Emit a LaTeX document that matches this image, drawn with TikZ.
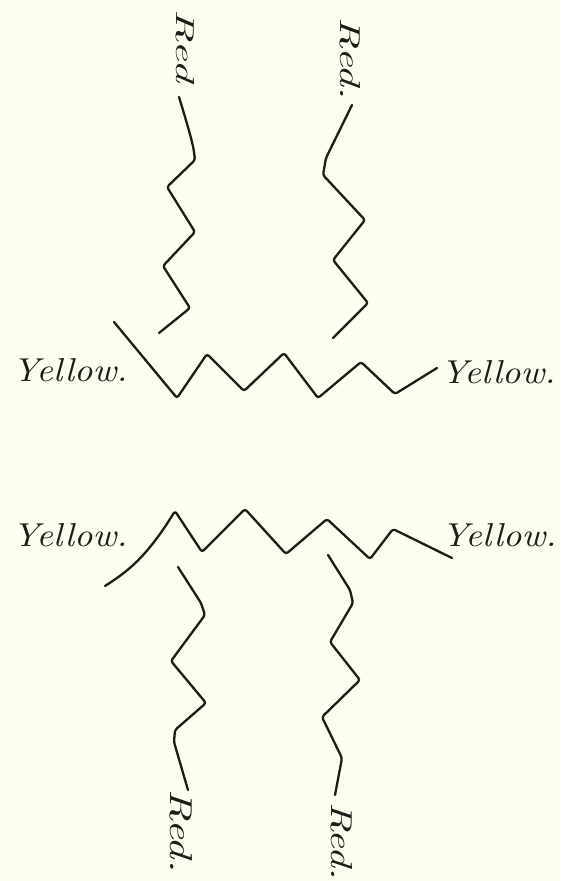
\documentclass[tikz,border=0pt]{standalone}
\usepackage{graphicx}
\definecolor{paper}{RGB}{253,253,240}
\definecolor{ink}{RGB}{28,28,24}
\tikzset{
  wire/.style={draw=ink, line width=2.3pt, rounded corners=2.5pt, line cap=round, line join=round},
  lbl/.style={inner sep=0pt, text=ink, font=\itshape},
}
\newcommand{\ylab}{\resizebox{115pt}{23pt}{\itshape Yellow.}}
\begin{document}
\begin{tikzpicture}[x=1pt,y=-1pt]
\fill[paper] (0,0) rectangle (560,881);
\useasboundingbox (0,0) rectangle (560,881);

% labels
\node[lbl, rotate=-90] (rTL) at (185,46) {\resizebox{72pt}{18pt}{\itshape Red}};
\node[lbl, rotate=-90] (rTR) at (350,59) {\resizebox{82pt}{20pt}{\itshape Red.}};
\node[lbl] (yTL) at (70,370) {\ylab};
\node[lbl] (yTR) at (498,372) {\ylab};
\node[lbl] (yBL) at (70,535) {\ylab};
\node[lbl] (yBR) at (499,535) {\ylab};
\node[lbl, rotate=-90] (rBL) at (181,831) {\resizebox{83pt}{22pt}{\itshape Red.}};
\node[lbl, rotate=-90] (rBR) at (342,841) {\resizebox{78pt}{21pt}{\itshape Red.}};

% top red wires
\draw[wire] (179,97) .. controls (186,120) and (192,140) .. (194,152) -- (195,160) -- (167,187) -- (195,232) -- (163,266) -- (190,308) -- (159,333);
\draw[wire] (352,105) -- (326,158) -- (323,175) -- (365,220) -- (333,260) -- (368,303) -- (333,338);

% top yellow wire
\draw[wire] (114,322) -- (177,398) -- (207,354) -- (244,391) -- (284,353) -- (318,398) -- (361,362) -- (395,394) -- (437,368);

% bottom yellow wire
\draw[wire] (105,586) .. controls (125,573) and (145,560) .. (175,511) -- (202,552) -- (245,509) -- (286,554) -- (327,519) -- (370,559) -- (393,529) -- (452,558);

% bottom red wires
\draw[wire] (178,567) -- (201,603) -- (205,615) -- (171,661) -- (206,703) -- (175,730) -- (174,742) -- (188,790);
\draw[wire] (328,555) -- (350,590) -- (353,603) -- (330,642) -- (360,680) -- (322,717) -- (342,758) -- (335,795);
\end{tikzpicture}
\end{document}
